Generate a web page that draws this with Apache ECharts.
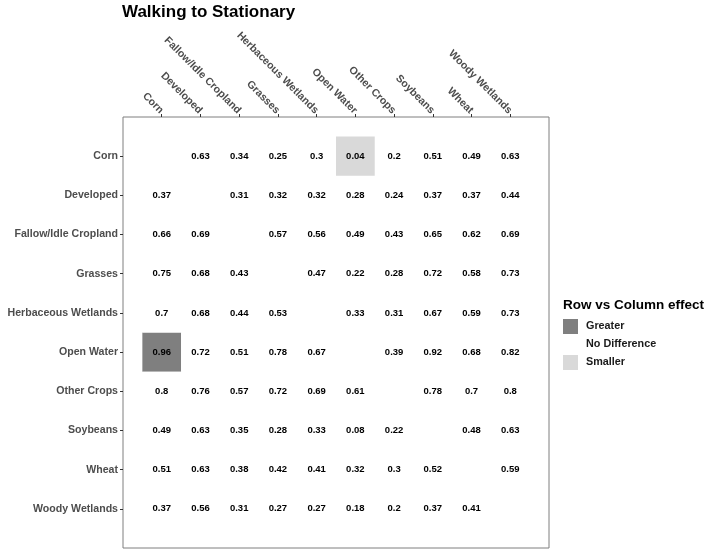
<!DOCTYPE html>
<html>
<head>
<meta charset="utf-8"/>
<title>Walking to Stationary</title>
<script src="https://cdn.jsdelivr.net/npm/echarts@6/dist/echarts.min.js"></script>
<style>
  html, body { margin: 0; padding: 0; background: #fff; }
  #main { width: 715px; height: 553px; }
</style>
</head>
<body>
<div id="main"></div>
<script type="text/javascript">
// land cover classes, same order on both axes
var categories = ['Corn', 'Developed', 'Fallow/Idle Cropland', 'Grasses', 'Herbaceous Wetlands',
                  'Open Water', 'Other Crops', 'Soybeans', 'Wheat', 'Woody Wetlands'];

// one row per row class, one value per column class (null on the diagonal)
var corn       = [null, 0.63, 0.34, 0.25, 0.3,  0.04, 0.2,  0.51, 0.49, 0.63];
var developed  = [0.37, null, 0.31, 0.32, 0.32, 0.28, 0.24, 0.37, 0.37, 0.44];
var fallow     = [0.66, 0.69, null, 0.57, 0.56, 0.49, 0.43, 0.65, 0.62, 0.69];
var grasses    = [0.75, 0.68, 0.43, null, 0.47, 0.22, 0.28, 0.72, 0.58, 0.73];
var herbaceous = [0.7,  0.68, 0.44, 0.53, null, 0.33, 0.31, 0.67, 0.59, 0.73];
var openWater  = [0.96, 0.72, 0.51, 0.78, 0.67, null, 0.39, 0.92, 0.68, 0.82];
var otherCrops = [0.8,  0.76, 0.57, 0.72, 0.69, 0.61, null, 0.78, 0.7,  0.8];
var soybeans   = [0.49, 0.63, 0.35, 0.28, 0.33, 0.08, 0.22, null, 0.48, 0.63];
var wheat      = [0.51, 0.63, 0.38, 0.42, 0.41, 0.32, 0.3,  0.52, null, 0.59];
var woody      = [0.37, 0.56, 0.31, 0.27, 0.27, 0.18, 0.2,  0.37, 0.41, null];
var rows = [corn, developed, fallow, grasses, herbaceous, openWater, otherCrops, soybeans, wheat, woody];

// cells with a significant effect: [row, column]
var greaterCells = [['Open Water', 'Corn']];
var smallerCells = [['Corn', 'Open Water']];

var effects = ['Greater', 'No Difference', 'Smaller'];
var effectColors = ['#7f7f7f', '#ffffff', '#d9d9d9'];

function inList(list, r, c) {
    for (var k = 0; k < list.length; k++) {
        if (list[k][0] === r && list[k][1] === c) return true;
    }
    return false;
}

var cellData = { 'Greater': [], 'No Difference': [], 'Smaller': [] };
var labelData = [];
for (var i = 0; i < rows.length; i++) {
    for (var j = 0; j < rows[i].length; j++) {
        var v = rows[i][j];
        if (v === null) continue;
        var eff = 'No Difference';
        if (inList(greaterCells, categories[i], categories[j])) eff = 'Greater';
        if (inList(smallerCells, categories[i], categories[j])) eff = 'Smaller';
        cellData[eff].push([j, i, v]);
        labelData.push([j, i, v]);
    }
}

var tickValues = categories.map(function (c, k) { return k; });
var FONT = 'Liberation Sans, Arial, Helvetica, sans-serif';

function renderCell(params, api) {
    var p = api.coord([api.value(0), api.value(1)]);
    var s = api.size([1, 1]);
    return {
        type: 'rect',
        shape: { x: p[0] - s[0] / 2, y: p[1] - s[1] / 2, width: s[0], height: s[1] },
        style: { fill: api.visual('color') }
    };
}

function renderLabel(params, api) {
    var p = api.coord([api.value(0), api.value(1)]);
    return {
        type: 'text',
        x: p[0],
        y: p[1],
        style: {
            text: String(api.value(2)),
            align: 'center',
            verticalAlign: 'middle',
            fontFamily: FONT,
            fontSize: 9.5,
            fontWeight: 'bold',
            fill: '#000'
        }
    };
}

var series = effects.map(function (name, k) {
    return {
        name: name,
        type: 'custom',
        renderItem: renderCell,
        itemStyle: { color: effectColors[k] },
        data: cellData[name],
        encode: { x: 0, y: 1 },
        silent: true
    };
});
series.push({
    name: 'values',
    type: 'custom',
    renderItem: renderLabel,
    data: labelData,
    encode: { x: 0, y: 1 },
    z: 5,
    silent: true
});

var axisCommon = {
    type: 'value',
    min: -1,
    max: 10,
    interval: 1,
    splitLine: { show: false },
    axisLine: { show: false, onZero: false },
    axisTick: { show: true, length: 3, customValues: tickValues, lineStyle: { color: '#333' } },
    axisLabel: {
        customValues: tickValues,
        formatter: function (val) { return categories[val] || ''; },
        color: '#4d4d4d',
        fontFamily: FONT,
        fontSize: 10.6,
        fontWeight: 'bold'
    }
};

var option = {
    backgroundColor: '#ffffff',
    animation: false,
    title: [{
        text: 'Walking to Stationary',
        left: 122,
        top: 4,
        padding: 0,
        textStyle: { fontFamily: FONT, fontSize: 17, fontWeight: 'bold', color: '#000' }
    }, {
        text: 'Row vs Column effect',
        left: 563,
        top: 298,
        padding: 0,
        textStyle: { fontFamily: FONT, fontSize: 13.5, fontWeight: 'bold', color: '#000' }
    }],
    legend: {
        data: effects,
        orient: 'vertical',
        left: 563,
        top: 319,
        padding: 0,
        itemWidth: 15,
        itemHeight: 15,
        itemGap: 3,
        icon: 'rect',
        selectedMode: false,
        textStyle: { fontFamily: FONT, fontSize: 10.8, fontWeight: 'bold', color: '#1a1a1a', padding: [0, 0, 0, 3] }
    },
    grid: {
        left: 123,
        top: 117,
        width: 426,
        height: 431,
        show: true,
        borderColor: '#7f7f7f',
        borderWidth: 1,
        containLabel: false
    },
    xAxis: echarts.util.merge({
        position: 'top',
        // a top axis flips the sign, so this reads down to the right
        axisLabel: { rotate: 45, margin: 5 }
    }, axisCommon),
    yAxis: echarts.util.merge({
        inverse: true,
        axisLabel: { margin: 5 }
    }, axisCommon),
    series: series
};

var myChart = echarts.init(document.getElementById('main'));
myChart.setOption(option);
</script>
</body>
</html>
